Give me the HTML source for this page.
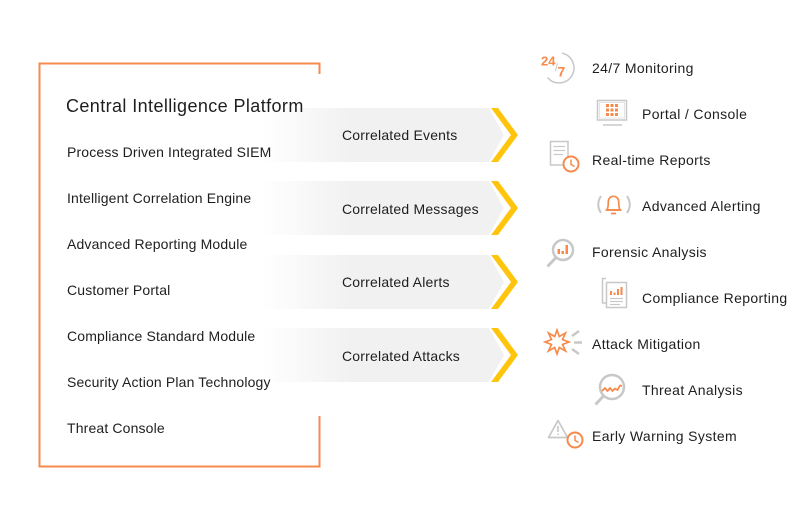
<!DOCTYPE html>
<html>
<head>
<meta charset="utf-8">
<style>
html,body{margin:0;padding:0;background:#fff;}
body{width:810px;height:506px;overflow:hidden;}
svg{display:block;}
text{font-family:"Liberation Sans",sans-serif;fill:#1e1e1e;}
.l{font-size:14px;letter-spacing:0.15px;}
.a{font-size:14px;letter-spacing:0.2px;}
.r{font-size:14px;letter-spacing:0.35px;}
</style>
</head>
<body>
<svg width="810" height="506" viewBox="0 0 810 506" xmlns="http://www.w3.org/2000/svg">
<defs>
<linearGradient id="g" gradientUnits="userSpaceOnUse" x1="262" y1="0" x2="350" y2="0">
<stop offset="0" stop-color="#ffffff"/>
<stop offset="1" stop-color="#f1f1f1"/>
</linearGradient>
</defs>

<!-- orange frame -->
<path d="M319.5,74 L319.5,63.5 L39.5,63.5 L39.5,466.5 L319.5,466.5 L319.5,416" fill="none" stroke="#f58b4c" stroke-width="2"/>

<!-- arrows -->
<g>
<path d="M262,108 L489,108 L504,135 L489,162 L262,162 Z" fill="url(#g)"/>
<path d="M491,108 L498,108 L518,135 L498,162 L491,162 L511,135 Z" fill="#fec50c"/>
<path d="M262,181 L489,181 L504,208 L489,235 L262,235 Z" fill="url(#g)"/>
<path d="M491,181 L498,181 L518,208 L498,235 L491,235 L511,208 Z" fill="#fec50c"/>
<path d="M262,255 L489,255 L504,282 L489,309 L262,309 Z" fill="url(#g)"/>
<path d="M491,255 L498,255 L518,282 L498,309 L491,309 L511,282 Z" fill="#fec50c"/>
<path d="M262,328 L489,328 L504,355 L489,382 L262,382 Z" fill="url(#g)"/>
<path d="M491,328 L498,328 L518,355 L498,382 L491,382 L511,355 Z" fill="#fec50c"/>
</g>

<!-- left list -->
<text x="66" y="112" style="font-size:18px;letter-spacing:0.4px;">Central Intelligence Platform</text>
<text class="l" x="67" y="157">Process Driven Integrated SIEM</text>
<text class="l" x="67" y="203">Intelligent Correlation Engine</text>
<text class="l" x="67" y="249">Advanced Reporting Module</text>
<text class="l" x="67" y="295">Customer Portal</text>
<text class="l" x="67" y="341">Compliance Standard Module</text>
<text class="l" x="67" y="387">Security Action Plan Technology</text>
<text class="l" x="67" y="433">Threat Console</text>

<!-- arrow labels -->
<text class="a" x="342" y="140">Correlated Events</text>
<text class="a" x="342" y="214">Correlated Messages</text>
<text class="a" x="342" y="287">Correlated Alerts</text>
<text class="a" x="342" y="361">Correlated Attacks</text>

<!-- right list -->
<text class="r" x="592" y="73">24/7 Monitoring</text>
<text class="r" x="642" y="119">Portal / Console</text>
<text class="r" x="592" y="165">Real-time Reports</text>
<text class="r" x="642" y="211">Advanced Alerting</text>
<text class="r" x="592" y="257">Forensic Analysis</text>
<text class="r" x="642" y="303">Compliance Reporting</text>
<text class="r" x="592" y="349">Attack Mitigation</text>
<text class="r" x="642" y="395">Threat Analysis</text>
<text class="r" x="592" y="441">Early Warning System</text>

<!-- icon: 24/7 -->
<g>
<path d="M562,53.2 A15,15 0 1 1 547.5,77.5" fill="none" stroke="#c8c8c8" stroke-width="1.5"/>
<text x="541" y="65.5" style="font-size:13px;fill:#f58a4b;font-weight:bold;">24</text>
<text x="555" y="71" style="font-size:10px;fill:#b8b8b8;">/</text>
<text x="557.5" y="76.5" style="font-size:14px;fill:#f58a4b;font-weight:bold;">7</text>
</g>

<!-- icon: portal/console -->
<g>
<rect x="597.5" y="100.5" width="29" height="19.5" fill="none" stroke="#c8c8c8" stroke-width="1.5"/>
<rect x="599.5" y="102.5" width="25" height="15.5" fill="none" stroke="#e4e4e4" stroke-width="1"/>
<line x1="603" y1="125" x2="622" y2="125" stroke="#c8c8c8" stroke-width="1.5"/>
<g fill="#f58a4b">
<rect x="606" y="104" width="3" height="3"/><rect x="610.5" y="104" width="3" height="3"/><rect x="615" y="104" width="3" height="3"/>
<rect x="606" y="108.5" width="3" height="3"/><rect x="610.5" y="108.5" width="3" height="3"/><rect x="615" y="108.5" width="3" height="3"/>
<rect x="606" y="113" width="3" height="3"/><rect x="610.5" y="113" width="3" height="3"/><rect x="615" y="113" width="3" height="3"/>
</g>
</g>

<!-- icon: real-time reports -->
<g>
<rect x="550.5" y="141.5" width="17.5" height="23.5" fill="#fff" stroke="#c8c8c8" stroke-width="1.5"/>
<line x1="553.5" y1="146.5" x2="565" y2="146.5" stroke="#c8c8c8" stroke-width="1.2"/>
<line x1="553.5" y1="150.5" x2="565" y2="150.5" stroke="#c8c8c8" stroke-width="1.2"/>
<line x1="553.5" y1="154.5" x2="563" y2="154.5" stroke="#c8c8c8" stroke-width="1.2"/>
<circle cx="571" cy="164" r="7.5" fill="#fff" stroke="#f58a4b" stroke-width="2"/>
<path d="M571,159.5 L571,164.5 L574.5,166.5" fill="none" stroke="#f58a4b" stroke-width="1.5"/>
</g>

<!-- icon: bell -->
<g>
<path d="M601,196 Q595.5,204.5 601,213" fill="none" stroke="#c8c8c8" stroke-width="2"/>
<path d="M627,196 Q632.5,204.5 627,213" fill="none" stroke="#c8c8c8" stroke-width="2"/>
<path d="M607,210 C608.2,207.5 608.3,205 608.3,202 C608.3,198.3 610.7,196.3 613.5,196.3 C616.3,196.3 618.7,198.3 618.7,202 C618.7,205 618.8,207.5 620,210 Z" fill="none" stroke="#f58a4b" stroke-width="1.7"/>
<line x1="605.5" y1="210" x2="621.5" y2="210" stroke="#f58a4b" stroke-width="1.7"/>
<line x1="611" y1="213.5" x2="616" y2="213.5" stroke="#f58a4b" stroke-width="1.7"/>
</g>

<!-- icon: forensic analysis -->
<g>
<circle cx="563" cy="250" r="10" fill="#fff" stroke="#c8c8c8" stroke-width="2.5"/>
<line x1="556" y1="257.5" x2="547.5" y2="266.5" stroke="#c8c8c8" stroke-width="3"/>
<rect x="557.5" y="249" width="2.5" height="5" fill="#f58a4b"/>
<rect x="561.5" y="251" width="2.5" height="3" fill="#f58a4b"/>
<rect x="565.5" y="245" width="2.5" height="9" fill="#f58a4b"/>
</g>

<!-- icon: compliance reporting -->
<g>
<path d="M606,278.5 L602.5,278.5 L602.5,303 L607,303" fill="none" stroke="#c8c8c8" stroke-width="1.5"/>
<rect x="606.5" y="282.5" width="20" height="25" fill="#fff" stroke="#c8c8c8" stroke-width="1.5"/>
<rect x="610" y="291" width="2" height="4" fill="#f58a4b"/>
<rect x="613.5" y="292.5" width="2" height="2.5" fill="#f58a4b"/>
<rect x="617" y="289" width="2" height="6" fill="#f58a4b"/>
<rect x="620.5" y="287" width="2" height="8" fill="#f58a4b"/>
<line x1="610" y1="298.5" x2="623" y2="298.5" stroke="#c8c8c8" stroke-width="1.2"/>
<line x1="610" y1="301.5" x2="623" y2="301.5" stroke="#c8c8c8" stroke-width="1.2"/>
<line x1="610" y1="304.5" x2="620" y2="304.5" stroke="#c8c8c8" stroke-width="1.2"/>
</g>

<!-- icon: attack mitigation -->
<g>
<polygon points="557,330 559.3,336.5 565.5,333 562.5,339.5 569,342 562.5,344.5 565.5,351 559.3,347.5 557,354 554.7,347.5 548.5,351 551.5,344.5 545,342 551.5,339.5 548.5,333 554.7,336.5" fill="#fff" stroke="#f58a4b" stroke-width="1.7" stroke-linejoin="miter"/>
<line x1="572" y1="336" x2="579" y2="331" stroke="#c8c8c8" stroke-width="2.5"/>
<line x1="574" y1="342.5" x2="582" y2="342.5" stroke="#c8c8c8" stroke-width="2.5"/>
<line x1="572" y1="349" x2="579" y2="354" stroke="#c8c8c8" stroke-width="2.5"/>
</g>

<!-- icon: threat analysis -->
<g>
<circle cx="612" cy="387" r="12" fill="#fff" stroke="#c8c8c8" stroke-width="2.5"/>
<line x1="603.5" y1="396" x2="595.5" y2="404.5" stroke="#c8c8c8" stroke-width="3"/>
<path d="M602,391 L605,388 L607.5,391 L610,388 L612.5,391 L615,388.5 L617.5,390 L620,385.5 L622,386" fill="none" stroke="#f58a4b" stroke-width="1.8" stroke-linejoin="round"/>
</g>

<!-- icon: early warning -->
<g>
<path d="M558,420.5 L567.5,437.5 L548.5,437.5 Z" fill="none" stroke="#c8c8c8" stroke-width="1.7" stroke-linejoin="round"/>
<line x1="558" y1="426" x2="558" y2="432" stroke="#c8c8c8" stroke-width="1.6"/>
<rect x="557.2" y="433.5" width="1.6" height="1.6" fill="#c8c8c8"/>
<circle cx="575" cy="440" r="7.5" fill="#fff" stroke="#f58a4b" stroke-width="2"/>
<path d="M575,435.5 L575,440.5 L578.5,442.5" fill="none" stroke="#f58a4b" stroke-width="1.5"/>
</g>
</svg>
</body>
</html>
